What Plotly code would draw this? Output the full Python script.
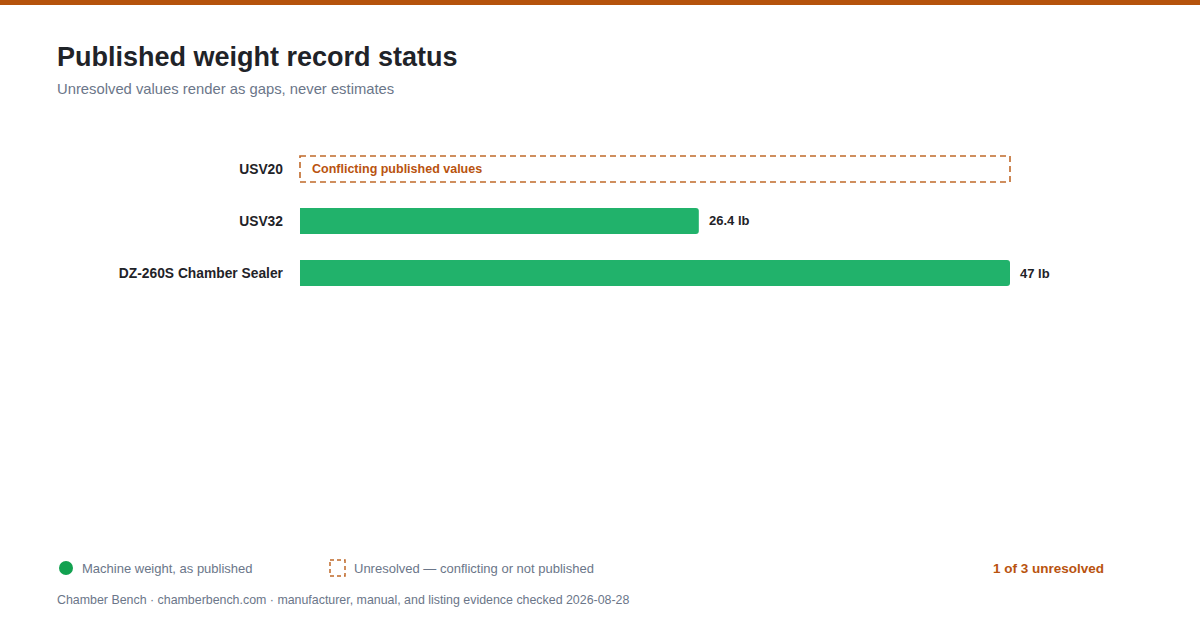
import plotly.graph_objects as go

# ---- data ----
machines = ["USV20", "USV32", "DZ-260S Chamber Sealer"]
weights_lb = [None, 26.4, 47]
notes = ["Conflicting published values", None, None]
value_labels = ["", "26.4 lb", "47 lb"]

TITLE = "Published weight record status"
SUBTITLE = "Unresolved values render as gaps, never estimates"
FOOTER = ("Chamber Bench · chamberbench.com · manufacturer, manual, and listing "
          "evidence checked 2026-08-28")

GREEN = "#21b26b"
ORANGE = "#c0692a"
ORANGE_TXT = "#b9530f"
INK = "#1f2328"
MUTED = "#6b7689"
FONT = "Liberation Sans, Arial, sans-serif"

W, H = 1200, 630
x_max = max(v for v in weights_lb if v is not None)
n_unresolved = sum(1 for v in weights_lb if v is None)
pad = 0.2  # a little slack so the dashed box outline is not clipped


def px_x(p):
    return p / W


def px_y(p):
    return 1 - p / H


fig = go.Figure()
fig.add_trace(go.Bar(
    y=machines, x=weights_lb, orientation="h", width=0.5,
    marker=dict(color=GREEN, cornerradius=3, line=dict(width=0)),
    hoverinfo="skip", showlegend=False,
))

shapes = [
    # top band
    dict(type="rect", xref="paper", yref="paper", x0=0, x1=1,
         y0=px_y(5), y1=1, fillcolor="#b5530c", line=dict(width=0)),
]
annotations = []

for i, (m, v) in enumerate(zip(machines, weights_lb)):
    if v is None:
        shapes.append(dict(
            type="rect", xref="x", yref="y", x0=0, x1=x_max,
            y0=i - 0.25, y1=i + 0.25, fillcolor="rgba(0,0,0,0)",
            line=dict(color=ORANGE, width=1.6, dash="6px,4px"),
        ))
        annotations.append(dict(
            x=0, y=m, xref="x", yref="y", text=f"<b>{notes[i]}</b>",
            showarrow=False, xanchor="left", xshift=10,
            font=dict(size=12.5, color=ORANGE_TXT, family=FONT),
        ))
    else:
        annotations.append(dict(
            x=v, y=m, xref="x", yref="y", text=f"<b>{value_labels[i]}</b>",
            showarrow=False, xanchor="left", xshift=8,
            font=dict(size=13, color=INK, family=FONT),
        ))

# title / subtitle
annotations += [
    dict(x=px_x(55), y=px_y(57), xref="paper", yref="paper",
         text=f"<b>{TITLE}</b>", showarrow=False, xanchor="left", yanchor="middle",
         font=dict(size=27, color=INK, family=FONT)),
    dict(x=px_x(55), y=px_y(89), xref="paper", yref="paper",
         text=SUBTITLE, showarrow=False, xanchor="left", yanchor="middle",
         font=dict(size=14.8, color=MUTED, family=FONT)),
]

# legend
shapes += [
    dict(type="circle", xref="paper", yref="paper",
         x0=px_x(59), x1=px_x(73), y0=px_y(561), y1=px_y(575),
         fillcolor="#12a150", line=dict(width=0)),
    dict(type="rect", xref="paper", yref="paper",
         x0=px_x(330), x1=px_x(345), y0=px_y(560), y1=px_y(576),
         fillcolor="rgba(0,0,0,0)", line=dict(color=ORANGE, width=1.5, dash="4px,3px")),
]
annotations += [
    dict(x=px_x(80), y=px_y(568), xref="paper", yref="paper",
         text="Machine weight, as published", showarrow=False,
         xanchor="left", yanchor="middle",
         font=dict(size=13, color=MUTED, family=FONT)),
    dict(x=px_x(352), y=px_y(568), xref="paper", yref="paper",
         text="Unresolved — conflicting or not published", showarrow=False,
         xanchor="left", yanchor="middle",
         font=dict(size=13, color=MUTED, family=FONT)),
    dict(x=px_x(1106), y=px_y(568), xref="paper", yref="paper",
         text=f"<b>{n_unresolved} of {len(machines)} unresolved</b>", showarrow=False,
         xanchor="right", yanchor="middle",
         font=dict(size=13.5, color=ORANGE_TXT, family=FONT)),
    dict(x=px_x(55), y=px_y(600), xref="paper", yref="paper",
         text=FOOTER, showarrow=False, xanchor="left", yanchor="middle",
         font=dict(size=12.4, color=MUTED, family=FONT)),
]

span_px = 1010 - 300
fig.update_layout(
    width=W, height=H,
    margin=dict(l=0, r=0, t=0, b=0),
    paper_bgcolor="white", plot_bgcolor="white",
    shapes=shapes, annotations=annotations,
    xaxis=dict(domain=[px_x(300 - pad * span_px / x_max),
                       px_x(1010 + pad * span_px / x_max)],
               range=[-pad, x_max + pad], visible=False, fixedrange=True),
    yaxis=dict(domain=[px_y(299), px_y(143)], autorange="reversed",
               showgrid=False, zeroline=False, showline=False, ticks="",
               ticklabelstandoff=13,
               tickfont=dict(size=13.8, color=INK, family=FONT, weight="bold"),
               fixedrange=True),
    showlegend=False,
    font=dict(family=FONT),
)

fig.write_html("out.html", config={"displayModeBar": False},
               post_script="document.body.style.margin='0';")
